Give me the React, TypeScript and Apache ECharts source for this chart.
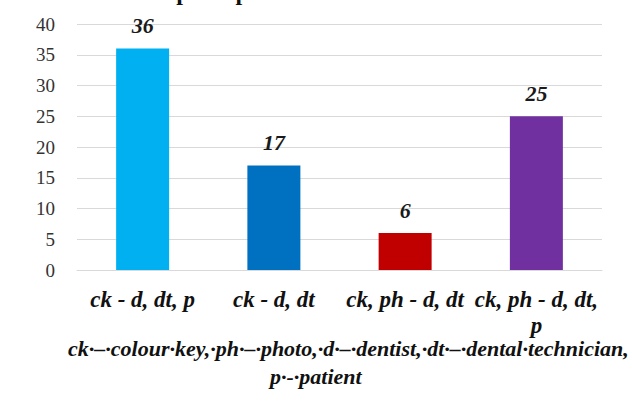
import React, { useEffect, useRef } from "react";
import * as echarts from "echarts";

const categories = ["ck - d, dt, p", "ck - d, dt", "ck, ph - d, dt", "ck, ph - d, dt,\np"];
const values = [36, 17, 6, 25];
const barColors = ["#00B0F0", "#0070C0", "#C00000", "#7030A0"];
const yTicks = { min: 0, max: 40, interval: 5 };
const titleText = "Methods for implant prosthetic restorations";
const noteLine1 = "ck·–·colour·key,·ph·–·photo,·d·–·dentist,·dt·–·dental·technician,";
const noteLine2 = "p·-·patient";

const SERIF = "Liberation Serif";

export default function App() {
  const ref = useRef<HTMLDivElement>(null);

  useEffect(() => {
    if (!ref.current) return;
    const chart = echarts.init(ref.current, null, { renderer: "svg" });
    chart.setOption({
      animation: false,
      backgroundColor: "#ffffff",
      grid: { left: 77, right: 30, top: 24, bottom: 136, containLabel: false },
      xAxis: {
        type: "category",
        data: categories,
        axisLine: { show: true, lineStyle: { color: "#d9d9d9", width: 1 } },
        axisTick: { show: false },
        axisLabel: {
          interval: 0,
          margin: 16,
          color: "#111111",
          fontFamily: SERIF,
          fontSize: 23,
          fontWeight: "bold",
          fontStyle: "italic",
          lineHeight: 26,
        },
      },
      yAxis: {
        type: "value",
        min: yTicks.min,
        max: yTicks.max,
        interval: yTicks.interval,
        axisLine: { show: false },
        axisTick: { show: false },
        splitLine: { lineStyle: { color: "#d9d9d9", width: 1 } },
        axisLabel: {
          margin: 22,
          color: "#333333",
          fontFamily: SERIF,
          fontSize: 19,
        },
      },
      series: [
        {
          type: "bar",
          barWidth: 53,
          data: values.map((v, i) => ({ value: v, itemStyle: { color: barColors[i] } })),
          label: {
            show: true,
            position: "top",
            distance: 12,
            color: "#1a1a1a",
            fontFamily: SERIF,
            fontSize: 22,
            fontWeight: "bold",
            fontStyle: "italic",
          },
        },
      ],
      graphic: [
        {
          type: "text",
          left: 18,
          top: -20,
          style: {
            text: titleText,
            fill: "#111111",
            fontFamily: SERIF,
            fontSize: 24,
            fontWeight: "bold",
          },
        },
        {
          type: "text",
          left: 68,
          top: 337,
          style: {
            text: noteLine1,
            fill: "#111111",
            fontFamily: SERIF,
            fontSize: 22,
            fontWeight: "bold",
            fontStyle: "italic",
          },
        },
        {
          type: "text",
          left: 270,
          top: 365,
          style: {
            text: noteLine2,
            fill: "#111111",
            fontFamily: SERIF,
            fontSize: 22,
            fontWeight: "bold",
            fontStyle: "italic",
          },
        },
      ],
    });
    return () => chart.dispose();
  }, []);

  return (
    <div
      ref={ref}
      style={{ position: "absolute", left: 0, top: 0, width: 632, height: 406 }}
    />
  );
}
